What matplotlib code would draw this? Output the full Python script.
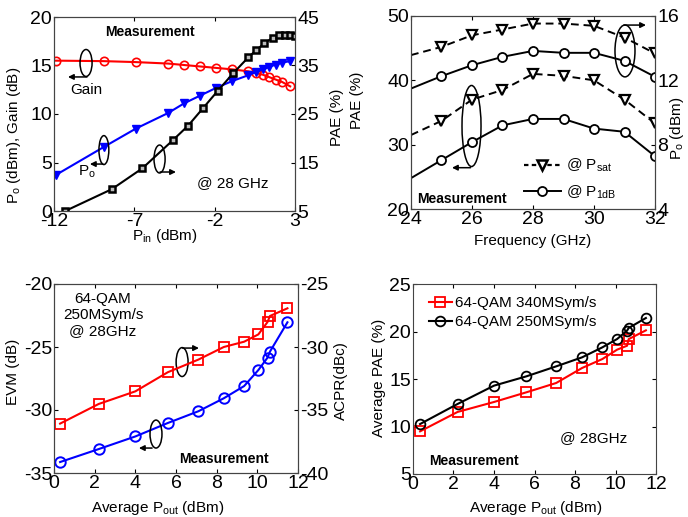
import matplotlib
matplotlib.use("Agg")
import matplotlib.pyplot as plt
from matplotlib.patches import Ellipse
from matplotlib.lines import Line2D

plt.rcParams['font.family'] = ['Liberation Sans', 'DejaVu Sans']
plt.rcParams['mathtext.fontset'] = 'custom'
plt.rcParams['mathtext.rm'] = 'Liberation Sans'
plt.rcParams['mathtext.it'] = 'Liberation Sans'
plt.rcParams['axes.unicode_minus'] = False

# ---------------- data ----------------
# Top-left: vs Pin
pin_gain = [-11.9, -8.9, -6.9, -4.9, -3.9, -2.9, -1.9, -0.9, 0.1, 0.6, 1.0, 1.4, 1.8, 2.2, 2.7]
gain = [15.5, 15.45, 15.35, 15.2, 15.05, 14.9, 14.75, 14.6, 14.4, 14.2, 14.05, 13.8, 13.55, 13.3, 12.85]
po = [3.7, 6.6, 8.5, 10.1, 11.1, 11.9, 12.7, 13.4, 14.0, 14.35, 14.6, 14.85, 15.1, 15.3, 15.45]
pin_pae = [-11.3, -8.4, -6.5, -4.6, -3.65, -2.7, -1.8, -0.85, 0.1, 0.6, 1.1, 1.6, 2.0, 2.4, 2.7, 3.0]
pae_pin = [5.0, 9.5, 13.8, 19.6, 22.6, 26.3, 29.8, 33.4, 36.7, 38.2, 39.6, 40.7, 41.2, 41.35, 41.35, 41.1]

# Top-right: vs frequency
freq = [24, 25, 26, 27, 28, 29, 30, 31, 32]
po_sat = [13.57, 14.08, 14.8, 15.16, 15.53, 15.53, 15.39, 14.66, 13.67]
po_1db = [11.49, 12.26, 12.94, 13.46, 13.83, 13.71, 13.71, 13.21, 12.22]
pae_sat = [31.5, 33.7, 37.0, 38.5, 41.0, 40.7, 40.0, 37.0, 33.3]
pae_1db = [24.8, 27.6, 30.4, 33.0, 34.0, 34.0, 32.5, 32.0, 28.2]

# Bottom-left: vs average Pout
pout = [0.3, 2.2, 4.0, 5.6, 7.1, 8.35, 9.35, 10.05, 10.5, 10.62, 11.48]
acpr = [-36.08, -34.52, -33.52, -32.0, -31.0, -30.0, -29.58, -29.0, -28.02, -27.54, -26.93]
evm = [-34.13, -33.1, -32.1, -31.03, -30.1, -29.07, -28.1, -26.83, -25.85, -25.37, -23.04]

# Bottom-right: average PAE vs average Pout
pout_pae = [0.35, 2.2, 4.0, 5.6, 7.07, 8.35, 9.35, 10.08, 10.57, 10.65, 11.5]
pae_340 = [9.49, 11.53, 12.58, 13.6, 14.58, 16.16, 17.1, 18.09, 18.5, 19.2, 20.12]
pae_250 = [10.26, 12.37, 14.3, 15.28, 16.33, 17.28, 18.33, 19.21, 20.09, 20.37, 21.42]

TICK_FS = 14
LAB_FS = 11
ANN_FS = 11
SPINE = '#444444'

fig = plt.figure(figsize=(6.88, 5.17), dpi=100)


def style(ax):
    ax.tick_params(direction='in', length=3, width=0.8, labelsize=TICK_FS, pad=1.5,
                   top=True, right=False, left=True, colors='black')
    for s in ax.spines.values():
        s.set_linewidth(0.8)
        s.set_color(SPINE)


def style_r(ax):
    ax.tick_params(direction='in', length=3, width=0.8, labelsize=TICK_FS, pad=1.5,
                   right=True, left=False, top=False)
    for s in ax.spines.values():
        s.set_linewidth(0.8)
        s.set_color(SPINE)


def ellipse(ax, cx, cy, w, h):
    ax.add_patch(Ellipse((cx, cy), w, h, transform=ax.transAxes, fill=False,
                         edgecolor='black', lw=1.1, clip_on=False, zorder=5))


def arrow(ax, x0, y0, x1, y1):
    ax.annotate('', xy=(x1, y1), xytext=(x0, y0), xycoords='axes fraction',
                textcoords='axes fraction',
                arrowprops=dict(arrowstyle='-|>', color='black', lw=1.1,
                                mutation_scale=8, shrinkA=0, shrinkB=0),
                annotation_clip=False, zorder=6)


def label(ax, x, y, s, rot=0, **kw):
    ax.text(x, y, s, transform=ax.transAxes, rotation=rot, ha='center', va='center',
            fontsize=LAB_FS, **kw)

# ---------------- Top-left ----------------
ax1 = fig.add_axes([54/688, 1-211/517, 241/688, 194/517])
ax1r = ax1.twinx()
ax1.plot(pin_gain, gain, color='red', lw=1.5, marker='o', ms=6, mfc='none', mew=1.2, zorder=3)
ax1.plot(pin_gain, po, color='blue', lw=1.5, marker='v', ms=6, mfc='blue', mec='blue', zorder=3)
ax1r.plot(pin_pae, pae_pin, color='black', lw=1.5, marker='s', ms=4.5, mfc='#bbbbbb',
          mec='black', mew=1.8)
ax1.set_xlim(-12, 3)
ax1.set_ylim(0, 20)
ax1r.set_ylim(5, 45)
ax1.set_xticks([-12, -7, -2, 3])
ax1.set_yticks([0, 5, 10, 15, 20])
ax1r.set_yticks([5, 15, 25, 35, 45])
style(ax1)
style_r(ax1r)
label(ax1, -0.164, 0.392, r'P$_{\rm o}$ (dBm), Gain (dB)', rot=90)
label(ax1, 1.174, 0.485, 'PAE (%)', rot=90)
label(ax1, 0.461, -0.129, r'P$_{\rm in}$ (dBm)')
ax1.text(0.398, 0.923, 'Measurement', transform=ax1.transAxes, ha='center', va='center',
         fontsize=10, fontweight='bold')
ax1.text(0.133, 0.624, 'Gain', transform=ax1.transAxes, ha='center', va='center', fontsize=ANN_FS)
ax1.text(0.137, 0.201, r'P$_{\rm o}$', transform=ax1.transAxes, ha='center', va='center', fontsize=ANN_FS)
ax1.text(0.743, 0.144, '@ 28 GHz', transform=ax1.transAxes, ha='center', va='center', fontsize=ANN_FS)
ellipse(ax1, 0.133, 0.763, 0.05, 0.139)
arrow(ax1, 0.137, 0.691, 0.058, 0.691)
ellipse(ax1, 0.207, 0.314, 0.041, 0.149)
arrow(ax1, 0.203, 0.242, 0.149, 0.242)
ellipse(ax1, 0.438, 0.268, 0.046, 0.144)
arrow(ax1, 0.44, 0.201, 0.506, 0.201)

# ---------------- Top-right ----------------
ax2 = fig.add_axes([411/688, 1-209/517, 244/688, 193/517])
ax2r = ax2.twinx()
ax2.plot(freq, pae_sat, color='black', lw=1.4, ls=(0, (4, 2.5)), marker='v', ms=7,
         mfc='white', mec='black', mew=1.6, markevery=slice(1, None))
ax2.plot(freq, pae_1db, color='black', lw=1.4, ls='-', marker='o', ms=6.5,
         mfc='white', mec='black', mew=1.3, markevery=slice(1, None))
ax2r.plot(freq, po_sat, color='black', lw=1.4, ls=(0, (4, 2.5)), marker='v', ms=7,
          mfc='white', mec='black', mew=1.6, markevery=slice(1, None))
ax2r.plot(freq, po_1db, color='black', lw=1.4, ls='-', marker='o', ms=6.5,
          mfc='white', mec='black', mew=1.3, markevery=slice(1, None))
ax2.set_xlim(24, 32)
ax2.set_ylim(20, 50)
ax2r.set_ylim(4, 16)
ax2.set_xticks([24, 26, 28, 30, 32])
ax2.set_yticks([20, 30, 40, 50])
ax2r.set_yticks([4, 8, 12, 16])
style(ax2)
style_r(ax2r)
label(ax2, -0.22, 0.565, 'PAE (%)', rot=90)
label(ax2, 1.090, 0.42, r'P$_{\rm o}$ (dBm)', rot=90)
label(ax2, 0.5, -0.166, 'Frequency (GHz)')
ax2.text(0.025, 0.052, 'Measurement', transform=ax2.transAxes, ha='left', va='center',
         fontsize=10, fontweight='bold')
ellipse(ax2, 0.248, 0.43, 0.078, 0.42)
arrow(ax2, 0.244, 0.214, 0.168, 0.214)
ellipse(ax2, 0.877, 0.819, 0.082, 0.269)
arrow(ax2, 0.873, 0.953, 0.963, 0.953)
h_sat = Line2D([], [], color='black', lw=1.6, ls=(0, (2, 1.5)), marker='v', ms=7,
               mfc='white', mec='black', mew=1.8)
h_1db = Line2D([], [], color='black', lw=1.4, ls='-', marker='o', ms=6.5,
               mfc='white', mec='black', mew=1.3)
ax2.legend([h_sat, h_1db], [r'@ P$_{\rm sat}$', r'@ P$_{\rm 1dB}$'], loc='upper left',
           bbox_to_anchor=(0.463, 0.269), frameon=False, fontsize=ANN_FS,
           borderpad=0, borderaxespad=0, handlelength=2.4, handletextpad=0.35,
           labelspacing=0.6)

# ---------------- Bottom-left ----------------
ax3 = fig.add_axes([54/688, 44/517, 244/688, 189/517])
ax3r = ax3.twinx()
ax3.plot(pout, evm, color='blue', lw=1.5, marker='o', ms=7.5, mfc='none', mec='blue', mew=1.4)
ax3r.plot(pout, acpr, color='red', lw=1.5, marker='s', ms=7, mfc='none', mec='red', mew=1.3)
ax3.set_xlim(0, 12)
ax3.set_ylim(-35, -20)
ax3r.set_ylim(-40, -25)
ax3.set_xticks([0, 2, 4, 6, 8, 10, 12])
ax3.set_yticks([-35, -30, -25, -20])
ax3r.set_yticks([-40, -35, -30, -25])
style(ax3)
style_r(ax3r)
label(ax3, -0.170, 0.534, 'EVM (dB)', rot=90)
label(ax3, 1.175, 0.49, 'ACPR(dBc)', rot=90)
label(ax3, 0.426, -0.183, r'Average P$_{\rm out}$ (dBm)')
ax3.text(0.201, 0.836, '64-QAM\n250MSym/s\n@ 28GHz', transform=ax3.transAxes, ha='center',
         va='center', fontsize=ANN_FS, linespacing=1.2)
ax3.text(0.697, 0.074, 'Measurement', transform=ax3.transAxes, ha='center', va='center',
         fontsize=10, fontweight='bold')
ellipse(ax3, 0.525, 0.587, 0.049, 0.153)
arrow(ax3, 0.527, 0.661, 0.594, 0.661)
ellipse(ax3, 0.418, 0.206, 0.049, 0.148)
arrow(ax3, 0.402, 0.132, 0.348, 0.132)

# ---------------- Bottom-right ----------------
ax4 = fig.add_axes([413/688, 43/517, 243/688, 190/517])
ax4.plot(pout_pae, pae_340, color='red', lw=1.5, marker='s', ms=6.5, mfc='none', mec='red',
         mew=1.3, label='64-QAM 340MSym/s')
ax4.plot(pout_pae, pae_250, color='black', lw=1.5, marker='o', ms=7, mfc='none', mec='black',
         mew=1.3, label='64-QAM 250MSym/s')
ax4.set_xlim(0, 12)
ax4.set_ylim(5, 25)
ax4.set_xticks([0, 2, 4, 6, 8, 10, 12])
ax4.set_yticks([5, 10, 15, 20, 25])
style(ax4)
ax4.tick_params(right=True)
label(ax4, -0.14, 0.505, 'Average PAE (%)', rot=90)
label(ax4, 0.506, -0.18, r'Average P$_{\rm out}$ (dBm)')
ax4.text(0.743, 0.189, '@ 28GHz', transform=ax4.transAxes, ha='center', va='center', fontsize=ANN_FS)
ax4.text(0.066, 0.068, 'Measurement', transform=ax4.transAxes, ha='left', va='center',
         fontsize=10, fontweight='bold')
ax4.legend(loc='upper left', bbox_to_anchor=(0.066, 0.937), frameon=False, fontsize=ANN_FS,
           borderpad=0, borderaxespad=0, handlelength=1.5, handletextpad=0.2,
           labelspacing=0.35)

fig.savefig('out.png', dpi=100)
